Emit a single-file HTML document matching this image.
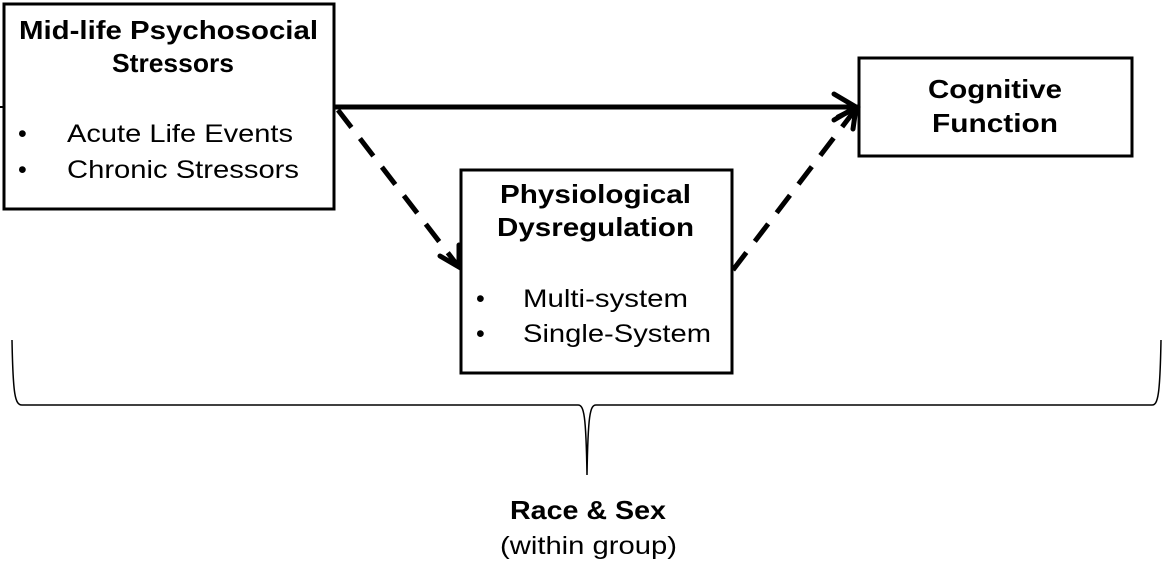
<!DOCTYPE html>
<html><head><style>
body{margin:0;background:#fff;}
svg{display:block;font-family:"Liberation Sans",Arial,sans-serif;}
</style></head><body>
<svg width="1173" height="573" viewBox="0 0 1173 573" xmlns="http://www.w3.org/2000/svg">
<rect x="4" y="4" width="330" height="205" fill="#fff" stroke="#000" stroke-width="3"/>
<rect x="859" y="58" width="273" height="98" fill="#fff" stroke="#000" stroke-width="3"/>
<rect x="461" y="170" width="271" height="203" fill="#fff" stroke="#000" stroke-width="3"/>
<line x1="0" y1="107" x2="4" y2="107" stroke="#000" stroke-width="2"/>
<line x1="335" y1="107" x2="855" y2="107" stroke="#000" stroke-width="5"/>
<polyline points="834,94 856,107 834,120" fill="none" stroke="#000" stroke-width="5" stroke-linecap="round"/>
<line x1="338" y1="110" x2="458" y2="266" stroke="#000" stroke-width="5" stroke-dasharray="22,14"/>
<polyline points="440,256 459,267 459,245" fill="none" stroke="#000" stroke-width="5" stroke-linecap="round"/>
<line x1="733" y1="270" x2="855" y2="110" stroke="#000" stroke-width="5" stroke-dasharray="22,14"/>
<polyline points="838,117 856,108 853,129" fill="none" stroke="#000" stroke-width="5" stroke-linecap="round"/>
<path d="M12,340 C13,395 15,405 22,405 L578,405 C584,405 586,415 587,475 C588,415 590,405 596,405 L1152,405 C1158,405 1160,395 1161,340" fill="none" stroke="#000" stroke-width="1.5"/>
<g font-weight="bold" font-size="26" lengthAdjust="spacingAndGlyphs">
<text x="19" y="39" textLength="299" lengthAdjust="spacingAndGlyphs">Mid-life Psychosocial</text>
<text x="112" y="72" textLength="122" lengthAdjust="spacingAndGlyphs">Stressors</text>
<text x="928" y="98" textLength="134" lengthAdjust="spacingAndGlyphs">Cognitive</text>
<text x="932" y="132" textLength="126" lengthAdjust="spacingAndGlyphs">Function</text>
<text x="500" y="203" textLength="191" lengthAdjust="spacingAndGlyphs">Physiological</text>
<text x="497" y="236" textLength="197" lengthAdjust="spacingAndGlyphs">Dysregulation</text>
<text x="510" y="519" textLength="156" lengthAdjust="spacingAndGlyphs">Race &amp; Sex</text>
</g>
<g font-size="25">
<text x="18" y="142">•</text><text x="67" y="142" textLength="226" lengthAdjust="spacingAndGlyphs">Acute Life Events</text>
<text x="18" y="178">•</text><text x="67" y="178" textLength="232" lengthAdjust="spacingAndGlyphs">Chronic Stressors</text>
<text x="476" y="307">•</text><text x="523" y="307" textLength="165" lengthAdjust="spacingAndGlyphs">Multi-system</text>
<text x="476" y="342">•</text><text x="523" y="342" textLength="188" lengthAdjust="spacingAndGlyphs">Single-System</text>
<text x="500" y="554" textLength="177" lengthAdjust="spacingAndGlyphs">(within group)</text>
</g>
</svg>
</body></html>
